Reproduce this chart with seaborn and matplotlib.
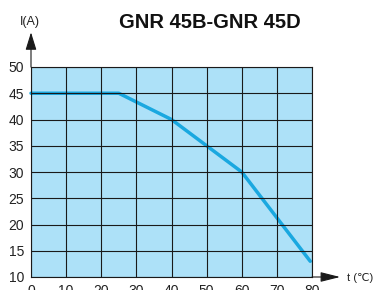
import matplotlib
matplotlib.use("Agg")
import matplotlib.pyplot as plt
import seaborn as sns
import pandas as pd

# Data
temperature = [0, 25, 40, 60, 79.5]
current = [45, 45, 40, 30, 13]
x_ticks = [0, 10, 20, 30, 40, 50, 60, 70, 80]
y_ticks = [10, 15, 20, 25, 30, 35, 40, 45, 50]
title = "GNR 45B-GNR 45D"
y_label = "I(A)"
x_label = "t (\u2103)"

sns.set_theme(style="white")
plt.rcParams['font.family'] = ['Liberation Sans', 'DejaVu Sans']

fig = plt.figure(figsize=(3.74, 2.90), dpi=100)
ax = fig.add_axes([31/374, 13/290, (312-31)/374, (277-67)/290])
ax.set_facecolor("#ADE1F8")

df = pd.DataFrame({"t": temperature, "I": current})
sns.lineplot(data=df, x="t", y="I", ax=ax, color="#1AA8E0", linewidth=2.5, clip_on=False)

ax.set_xlim(0, 80)
ax.set_ylim(10, 50)
ax.set_xticks(x_ticks)
ax.set_yticks(y_ticks)
ax.set_xticklabels([str(v) for v in x_ticks], fontsize=10, color="#222222")
ax.set_yticklabels([str(v) for v in y_ticks], fontsize=10, color="#222222")
ax.tick_params(axis="both", length=0)
ax.tick_params(axis="x", pad=5)
ax.tick_params(axis="y", pad=5)
ax.set_xlabel("")
ax.set_ylabel("")
ax.grid(True, color="#1a1a1a", linewidth=0.8)
ax.set_axisbelow(False)
for s in ax.spines.values():
    s.set_color("#1a1a1a")
    s.set_linewidth(0.8)
    s.set_visible(True)

# axis arrows
ax.annotate("", xy=(0, 1.165), xytext=(0, 1.0), xycoords="axes fraction",
            arrowprops=dict(arrowstyle="-|>,head_length=0.9,head_width=0.28",
                            color="#1a1a1a", lw=0.8, shrinkA=0, shrinkB=0),
            annotation_clip=False)
ax.annotate("", xy=(1.10, 0), xytext=(1.0, 0), xycoords="axes fraction",
            arrowprops=dict(arrowstyle="-|>,head_length=1.0,head_width=0.25",
                            color="#1a1a1a", lw=0.8, shrinkA=0, shrinkB=0),
            annotation_clip=False)

fig.text(373/374, 1 - 278/290, x_label, ha="right", va="center", fontsize=8, color="#222222")
fig.text(30/374, 1 - 22/290, y_label, ha="center", va="center", fontsize=9, color="#222222")
fig.text(210/374, 1 - 22/290, title, ha="center", va="center", fontsize=14.5, fontweight="bold", color="#111111")

fig.savefig("out.png", dpi=100)
